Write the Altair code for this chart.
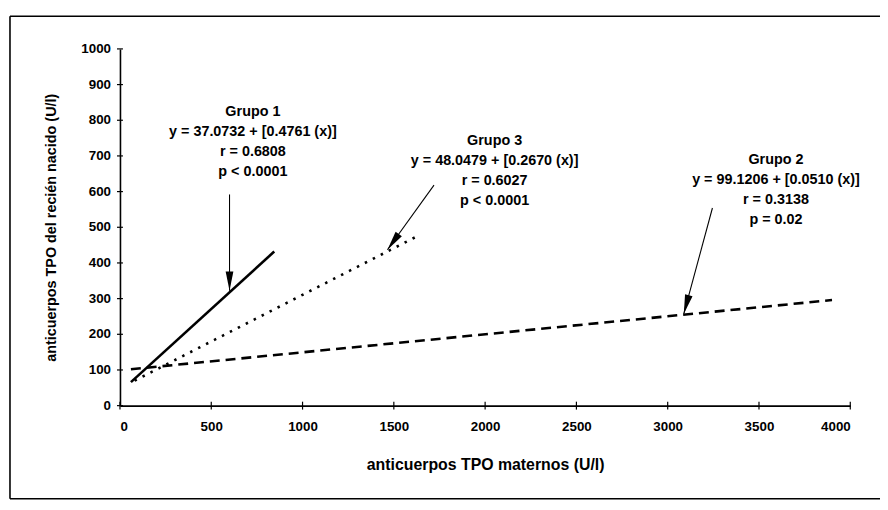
import altair as alt
import pandas as pd

# ---- data ----
x_ticks = [0, 500, 1000, 1500, 2000, 2500, 3000, 3500, 4000]
y_ticks = [0, 100, 200, 300, 400, 500, 600, 700, 800, 900, 1000]
y_tick_labels = [str(v) for v in y_ticks]

g1_x = [60, 845]
g1_y = [66, 432]
g2_x = [60, 3900]
g2_y = [102, 296]
g3_x = [80, 1640]
g3_y = [70, 478]

arrow_x0 = [600, 1720, 3245]
arrow_y0 = [592, 618, 554]
arrow_x1 = [600, 1465, 3088]
arrow_y1 = [322, 437, 257]
arrow_angle = [0, 35.8, 15.1]

g1_text = ["Grupo 1", "y = 37.0732 + [0.4761 (x)]", "r = 0.6808", "p < 0.0001"]
g3_text = ["Grupo 3", "y = 48.0479 + [0.2670 (x)]", "r = 0.6027", "p < 0.0001"]
g2_text = ["Grupo 2", "y = 99.1206 + [0.0510 (x)]", "r = 0.3138", "p = 0.02"]
g1_tx, g1_ty = 728, [823, 767, 712, 656]
g3_tx, g3_ty = 2052, [741, 686, 630, 574]
g2_tx, g2_ty = 3593, [688, 632, 577, 521]

FONT = "Liberation Sans"

xs = alt.Scale(domain=[0, 4000], nice=False)
ys = alt.Scale(domain=[0, 1000], nice=False)

def X(field):
    return alt.X(field, scale=xs)

def Y(field):
    return alt.Y(field, scale=ys)

def line_layer(xv, yv, dash):
    df = pd.DataFrame({"x": xv, "y": yv})
    kw = dict(color="black", strokeWidth=2.6)
    if dash:
        kw["strokeDash"] = dash
    return alt.Chart(df).mark_line(**kw).encode(x=X("x:Q"), y=Y("y:Q"))

xaxis = alt.Axis(values=x_ticks, format="d", ticks=False, labelPadding=14,
                 labelOverlap=False,
                 labelFont=FONT, labelFontSize=13.5, labelFontWeight="bold",
                 labelColor="black",
                 title="anticuerpos TPO maternos (U/l)", titleFont=FONT,
                 titleFontSize=16, titleFontWeight="bold", titleColor="black",
                 titleY=59, titleBaseline="middle",
                 domainColor="black", domainWidth=1.6, grid=False)
yaxis = alt.Axis(values=y_ticks, ticks=False, labels=False,
                 title="anticuerpos TPO del recién nacido (U/l)", titleFont=FONT,
                 titleFontSize=14.5, titleFontWeight="bold", titleColor="black",
                 titleX=-69, titleY=180, titleBaseline="middle", titleAlign="center",
                 domainColor="black", domainWidth=1.6, grid=False)

base_df = pd.DataFrame({"x": [0, 4000], "y": [0, 1000]})
axes = alt.Chart(base_df).mark_point(opacity=0).encode(
    x=alt.X("x:Q", scale=xs, axis=xaxis), y=alt.Y("y:Q", scale=ys, axis=yaxis))

ytick_df = pd.DataFrame({"y": y_ticks, "lab": y_tick_labels})
yticks = alt.Chart(ytick_df).mark_rule(color="black", strokeWidth=1.2).encode(
    y=Y("y:Q"), x=alt.value(-3), x2=alt.value(3))
ylabels = alt.Chart(ytick_df).mark_text(
    font=FONT, fontSize=13.5, fontWeight="bold", color="black",
    align="right", baseline="middle").encode(
    y=Y("y:Q"), x=alt.value(-9), text="lab:N")
xtick_df = pd.DataFrame({"x": x_ticks})
xticks = alt.Chart(xtick_df).mark_rule(color="black", strokeWidth=1.2).encode(
    x=X("x:Q"), y=alt.value(356), y2=alt.value(364))

one = base_df.head(1)
frame_top = alt.Chart(one).mark_rule(color="black", strokeWidth=1.6).encode(
    x=alt.value(-111), x2=alt.value(800), y=alt.value(-33))
frame_left = alt.Chart(one).mark_rule(color="black", strokeWidth=1.6).encode(
    x=alt.value(-111), y=alt.value(-33), y2=alt.value(454))
frame_bottom = alt.Chart(one).mark_rule(color="black", strokeWidth=1.6).encode(
    x=alt.value(-111), x2=alt.value(800), y=alt.value(454))

l1 = line_layer(g1_x, g1_y, None)
l2 = line_layer(g2_x, g2_y, [10, 6])
l3 = line_layer(g3_x, g3_y, [2.5, 6.5])

arr_df = pd.DataFrame({"x0": arrow_x0, "y0": arrow_y0, "x1": arrow_x1,
                       "y1": arrow_y1, "angle": arrow_angle})
arrows = alt.Chart(arr_df).mark_rule(color="black", strokeWidth=1.1).encode(
    x=X("x0:Q"), y=Y("y0:Q"), x2="x1:Q", y2="y1:Q")
heads = alt.Chart(arr_df).mark_point(
    shape="M -0.4 -2 L 0.4 -2 L 0 0 Z", filled=True, color="black",
    opacity=1, size=380).encode(
    x=X("x1:Q"), y=Y("y1:Q"), angle=alt.Angle("angle:Q", scale=None))

txt_df = pd.DataFrame({
    "x": [g1_tx] * 4 + [g3_tx] * 4 + [g2_tx] * 4,
    "y": g1_ty + g3_ty + g2_ty,
    "t": g1_text + g3_text + g2_text,
})
texts = alt.Chart(txt_df).mark_text(
    font=FONT, fontSize=14.5, fontWeight="bold", color="black",
    align="center", baseline="middle").encode(
    x=X("x:Q"), y=Y("y:Q"), text="t:N")

chart = alt.layer(axes, frame_top, frame_left, frame_bottom, yticks, ylabels, xticks,
                  l1, l2, l3, arrows, heads, texts).properties(
    width=737, height=360,
    autosize=alt.AutoSizeParams(type="none"),
    padding={"left": 113, "top": 39, "right": 30, "bottom": 100},
).configure(background="white").configure_view(strokeWidth=0, stroke="transparent")

chart.save("out.html", embed_options={"renderer": "svg", "actions": False})
